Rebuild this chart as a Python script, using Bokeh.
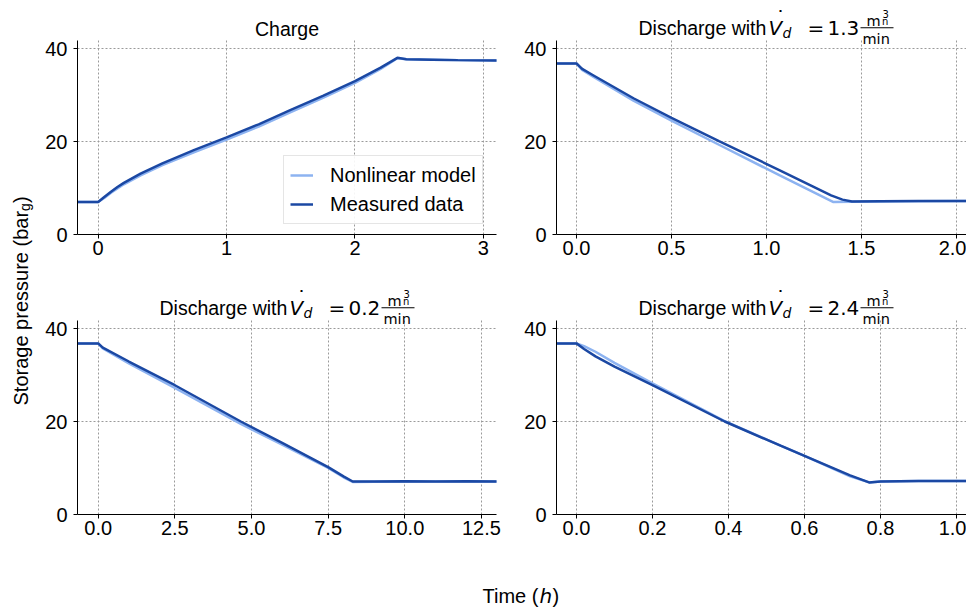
import numpy as np
from bokeh.plotting import figure
from bokeh.layouts import row, column
from bokeh.models import (Label, Legend, LegendItem, BoxAnnotation, FixedTicker,
                          Range1d, NumeralTickFormatter)
from bokeh.embed import file_html
from bokeh.resources import INLINE

# ---------------- data ----------------
charge_t = [-0.2, 0.0, 0.05, 0.1, 0.15, 0.2, 0.33, 0.5, 0.75, 1.0, 1.25, 1.5, 1.75, 2.0, 2.2, 2.33, 2.4, 2.6, 2.8, 3.2]
charge_p_meas = [7.0, 7.0, 8.1, 9.2, 10.2, 11.1, 13.1, 15.3, 18.2, 20.9, 23.7, 26.8, 29.8, 33.0, 35.9, 38.0, 37.7, 37.6, 37.5, 37.4]
charge_p_model = [7.0, 7.0, 7.9, 9.0, 9.9, 10.8, 12.7, 14.9, 17.7, 20.4, 23.2, 26.3, 29.4, 32.6, 35.6, 37.9, 37.7, 37.6, 37.5, 37.4]

dis13_t_meas = [-0.15, 0.0, 0.03, 0.09, 0.3, 0.5, 0.75, 1.07, 1.34, 1.4, 1.45, 1.6, 1.8, 2.1]
dis13_p_meas = [36.8, 36.8, 35.6, 34.2, 29.3, 25.1, 20.1, 13.8, 8.4, 7.5, 7.1, 7.15, 7.2, 7.2]
dis13_t_model = [-0.15, 0.0, 0.03, 0.09, 0.3, 0.5, 0.75, 1.07, 1.35, 1.45, 1.6, 1.8, 2.1]
dis13_p_model = [36.8, 36.8, 35.4, 33.9, 28.8, 24.5, 19.3, 12.7, 7.0, 7.05, 7.1, 7.15, 7.2]

dis02_t = [-0.8, 0.0, 0.15, 1.0, 2.5, 4.65, 6.0, 7.5, 8.0, 8.3, 9.0, 10.0, 11.0, 12.0, 13.2]
dis02_p_meas = [36.8, 36.8, 35.9, 32.9, 27.8, 20.0, 15.4, 10.2, 8.2, 7.1, 7.1, 7.15, 7.1, 7.15, 7.1]
dis02_p_model = [36.8, 36.8, 35.7, 32.5, 27.2, 19.5, 15.0, 10.0, 8.0, 7.0, 7.05, 7.1, 7.1, 7.1, 7.1]

dis24_t = [-0.08, 0.0, 0.02, 0.05, 0.1, 0.2, 0.39, 0.537, 0.6, 0.72, 0.77, 0.8, 0.9, 1.05]
dis24_p_meas = [36.8, 36.8, 35.6, 34.0, 31.8, 27.8, 20.0, 14.8, 12.6, 8.4, 6.9, 7.1, 7.2, 7.2]
dis24_p_model = [36.8, 36.8, 36.2, 35.0, 32.6, 28.2, 20.1, 14.8, 12.6, 8.2, 6.9, 7.1, 7.2, 7.2]

y_ticks = [0, 20, 40]
charge_x_ticks = [0, 1, 2, 3]
dis13_x_ticks = [0.0, 0.5, 1.0, 1.5, 2.0]
dis02_x_ticks = [0.0, 2.5, 5.0, 7.5, 10.0, 12.5]
dis24_x_ticks = [0.0, 0.2, 0.4, 0.6, 0.8, 1.0]

legend_labels = ["Nonlinear model", "Measured data"]
titles_rates = {"dis13": "1.3", "dis02": "0.2", "dis24": "2.4"}

# ---------------- style ----------------
TEXT_FONT = "Liberation Sans"
MATH_FONT = "DejaVu Sans"
DARK = "#1b48a3"
LIGHT = "#8db3f1"
FS = "20px"
Y_AXIS_TOP = 41.72          # top of the axes box (data units)
PX_PER_UNIT = 4.65          # vertical pixels per bar
TOTAL_H = 609


def make_panel(width, height, left, right, top, bottom, xr, xticks, fmt, frame_h):
    y_top = frame_h / PX_PER_UNIT
    p = figure(width=width, height=height, min_border_left=left, min_border_right=right,
               min_border_top=top, min_border_bottom=bottom,
               x_range=Range1d(*xr), y_range=Range1d(0, y_top),
               output_backend="svg", toolbar_location=None, tools="")
    p.outline_line_color = None
    p.background_fill_color = "white"
    p.border_fill_color = "white"
    p.xaxis.ticker = FixedTicker(ticks=xticks)
    p.yaxis.ticker = FixedTicker(ticks=y_ticks)
    p.yaxis.bounds = (0, Y_AXIS_TOP)
    if fmt:
        p.xaxis.formatter = NumeralTickFormatter(format=fmt)
    for ax in (p.xaxis, p.yaxis):
        ax.axis_line_color = "black"
        ax.axis_line_width = 1
        ax.major_tick_line_color = "black"
        ax.major_tick_out = 4
        ax.major_tick_in = 0
        ax.minor_tick_line_color = None
        ax.major_label_text_font = TEXT_FONT
        ax.major_label_text_font_size = FS
        ax.major_label_text_color = "black"
    p.xaxis.major_label_standoff = 2
    p.yaxis.major_label_standoff = 6
    for g in (p.xgrid, p.ygrid):
        g.grid_line_color = "#9a9a9a"
        g.grid_line_dash = "2 2"
        g.grid_line_width = 1
    if hasattr(p.xgrid[0], "cross_bounds"):
        p.xgrid[0].cross_bounds = (0, Y_AXIS_TOP)
    else:
        p.xgrid.visible = False
        p.segment(x0=xticks, x1=xticks, y0=[0] * len(xticks), y1=[Y_AXIS_TOP] * len(xticks),
                  line_color="#9a9a9a", line_dash="2 2", line_width=1)
    return p


def lab(p, text, x, y, size, font=TEXT_FONT, style="normal", align="left", angle=0.0):
    p.add_layout(Label(x=x, y=y, x_units="screen", y_units="screen", text=text,
                       text_font=font, text_font_size=size, text_font_style=style,
                       text_align=align, text_baseline="middle", angle=angle,
                       text_color="black"))


def discharge_title(p, rate):
    lab(p, "Discharge with", 82, 206.5, "19.5px")
    lab(p, "V", 212, 206.5, FS, MATH_FONT, "italic")
    lab(p, "\u02d9", 219, 217, FS, MATH_FONT)
    lab(p, "d", 226, 202, "14px", MATH_FONT, "italic")
    lab(p, "=", 251, 206.5, FS, MATH_FONT)
    lab(p, rate, 271, 206.5, FS, MATH_FONT)
    lab(p, "m", 310, 213.5, "14.5px", MATH_FONT)
    lab(p, "3", 326, 220.5, "10px", MATH_FONT)
    lab(p, "n", 325.5, 213.5, "10px", MATH_FONT)
    p.add_layout(BoxAnnotation(left=304, right=337, bottom=206.2, top=207.2,
                               left_units="screen", right_units="screen",
                               bottom_units="screen", top_units="screen",
                               fill_color="black", fill_alpha=1.0, line_color=None))
    lab(p, "min", 306, 196, "14.5px", MATH_FONT)


def add_lines(p, t_model, p_model, t_meas, p_meas):
    r1 = p.line(t_model, p_model, line_color=LIGHT, line_width=2.5)
    r2 = p.line(t_meas, p_meas, line_color=DARK, line_width=2.5)
    return r1, r2


# ---------------- panels ----------------
# top row: frames y 4..234 (titles drawn inside, axes limited to 0..41.7)
tl = make_panel(478, 268, 39, 20, 4, 34, (-0.161, 3.102), charge_x_ticks, None, 230)
r_model, r_meas = add_lines(tl, charge_t, charge_p_model, charge_t, charge_p_meas)
lab(tl, "Charge", 209.5, 206, "19.5px", align="center")
legend = Legend(items=[LegendItem(label=legend_labels[0], renderers=[r_model]),
                       LegendItem(label=legend_labels[1], renderers=[r_meas])],
                location=(206, 10), margin=0, padding=6, spacing=3,
                label_height=26, glyph_height=26, glyph_width=23, label_standoff=17,
                label_text_font=TEXT_FONT, label_text_font_size=FS, label_text_color="black",
                border_line_color="#cccccc", border_line_width=1,
                background_fill_color="white", background_fill_alpha=0.9)
tl.add_layout(legend)

tr = make_panel(450, 268, 40, 0, 4, 34, (-0.105, 2.0526), dis13_x_ticks, "0.0", 230)
add_lines(tr, dis13_t_model, dis13_p_model, dis13_t_meas, dis13_p_meas)
discharge_title(tr, titles_rates["dis13"])

# bottom row: frames y 285..514
bl = make_panel(478, 286, 39, 20, 17, 40, (-0.675, 12.99), dis02_x_ticks, "0.0", 229)
add_lines(bl, dis02_t, dis02_p_model, dis02_t, dis02_p_meas)
discharge_title(bl, titles_rates["dis02"])

br = make_panel(450, 286, 40, 0, 17, 40, (-0.0526, 1.0263), dis24_x_ticks, "0.0", 229)
add_lines(br, dis24_t, dis24_p_model, dis24_t, dis24_p_meas)
discharge_title(br, titles_rates["dis24"])

# ---------------- shared axis labels ----------------
ylab = figure(width=38, height=TOTAL_H, min_border=0, x_range=Range1d(0, 38), y_range=Range1d(0, TOTAL_H),
              x_axis_location=None, y_axis_location=None, output_backend="svg",
              toolbar_location=None, tools="")
ylab.grid.visible = False
ylab.outline_line_color = None
lab(ylab, "Storage pressure (bar", 20, TOTAL_H - 405, FS, angle=np.pi / 2)
lab(ylab, "g", 24, TOTAL_H - 210.5, "14px", angle=np.pi / 2)
lab(ylab, ")", 20, TOTAL_H - 202.5, FS, angle=np.pi / 2)

xlab_h = TOTAL_H - 268 - 286
xlab = figure(width=928, height=xlab_h, min_border=0, x_range=Range1d(0, 928), y_range=Range1d(0, xlab_h),
              x_axis_location=None, y_axis_location=None, output_backend="svg",
              toolbar_location=None, tools="")
xlab.grid.visible = False
xlab.outline_line_color = None
lab(xlab, "Time (", 444, 14, FS)
lab(xlab, "h", 501, 14, FS, MATH_FONT, "italic")
lab(xlab, ")", 514, 14, FS)

layout = row(ylab, column(row(tl, tr), row(bl, br), xlab))

open("out.html", "w").write(file_html(layout, INLINE))
